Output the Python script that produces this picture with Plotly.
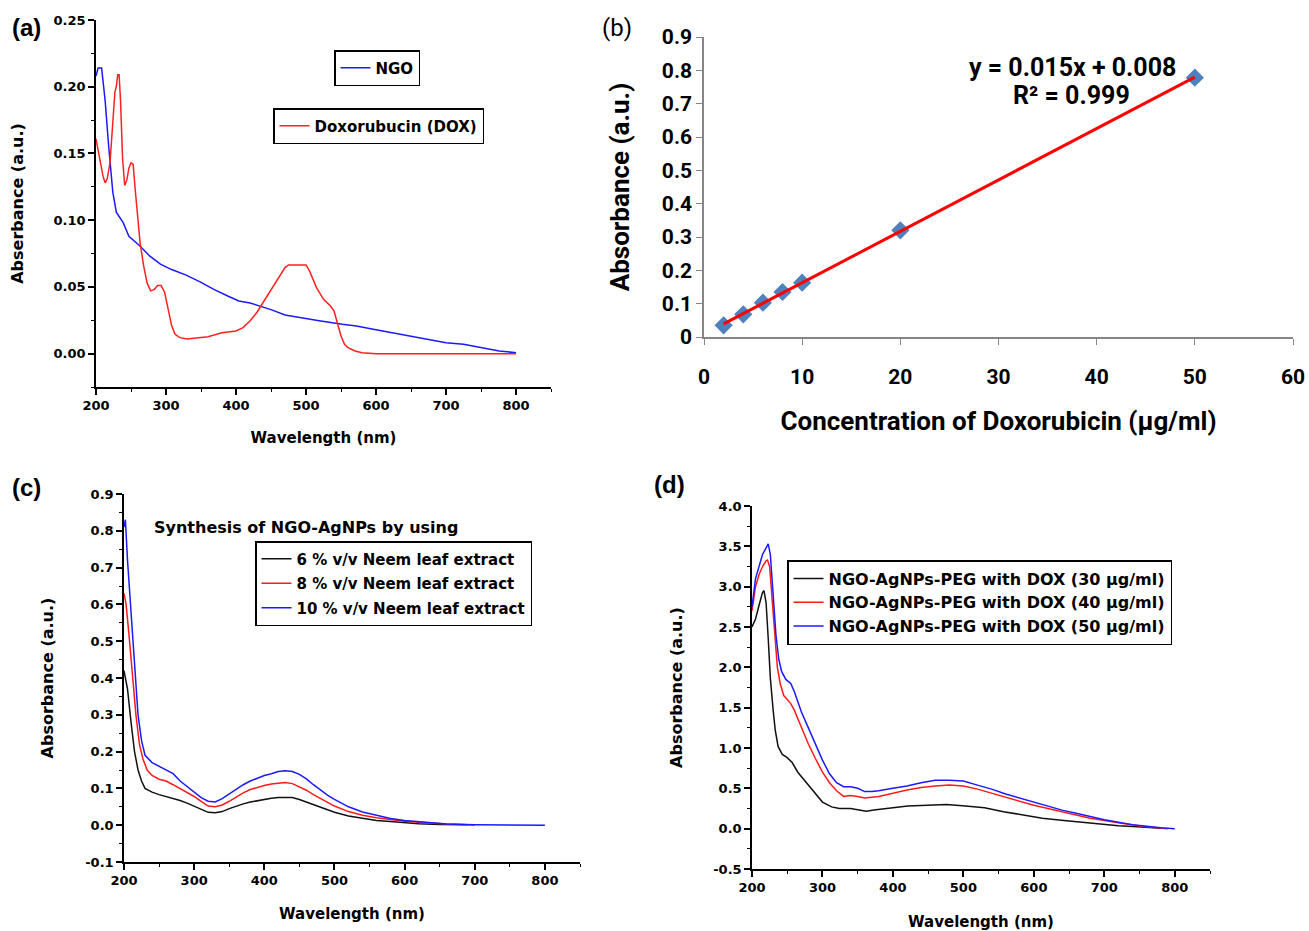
import numpy as np
import plotly.graph_objects as go

# ---------------- Panel (a) data ----------------
a_ngo_x = [200, 203, 208, 213, 218, 224, 229, 239, 247, 262, 277, 292, 308, 328, 348, 369, 389, 404,
           420, 450, 470, 491, 521, 552, 572, 598, 623, 649, 674, 700, 725, 750, 776, 800]
a_ngo_y = [0.208, 0.214, 0.214, 0.190, 0.156, 0.121, 0.106, 0.098, 0.088, 0.081, 0.073, 0.067, 0.063,
           0.059, 0.054, 0.048, 0.043, 0.0395, 0.038, 0.033, 0.029, 0.027, 0.0245, 0.022, 0.0207, 0.018,
           0.0157, 0.013, 0.0107, 0.0082, 0.007, 0.0045, 0.002, 0.0007]
a_dox_x = [200, 205, 210, 213, 216, 220, 224, 227, 229, 231, 233, 235, 238, 241, 244, 247, 250, 253, 256,
           259, 263, 268, 273, 278, 283, 288, 293, 298, 303, 308, 313, 320, 330, 340, 360, 380, 400, 410,
           420, 430, 440, 450, 460, 470, 475, 500, 505, 515, 525, 535, 540, 545, 550, 555, 560, 570, 580,
           600, 700, 800]
a_dox_y = [0.161, 0.146, 0.133, 0.128, 0.131, 0.143, 0.170, 0.196, 0.200, 0.209, 0.209, 0.190, 0.146,
           0.126, 0.130, 0.139, 0.143, 0.142, 0.123, 0.103, 0.083, 0.066, 0.053, 0.047, 0.048, 0.051,
           0.051, 0.046, 0.033, 0.021, 0.0145, 0.012, 0.011, 0.0117, 0.0127, 0.0157, 0.017, 0.0195,
           0.0245, 0.031, 0.0395, 0.048, 0.057, 0.0645, 0.0665, 0.0665, 0.062, 0.0495, 0.0407, 0.0357,
           0.032, 0.022, 0.0132, 0.007, 0.0045, 0.002, 0.0007, 0.0, 0.0, 0.0]

# ---------------- Panel (b) data ----------------
b_conc = [2, 4, 6, 8, 10, 20, 50]
b_abs = [0.035, 0.068, 0.103, 0.135, 0.163, 0.320, 0.778]
b_eq_text = "y = 0.015x + 0.008"
b_r2_text = "R² = 0.999"

# ---------------- Panel (c) data ----------------
c_x6 = [200, 205, 210, 215, 220, 225, 230, 240, 250, 260, 270, 280, 290, 300, 310, 320, 330, 340, 350,
        360, 370, 380, 390, 400, 410, 420, 430, 440, 450, 460, 470, 480, 490, 500, 520, 540, 560, 580,
        600, 620, 650, 690]
c_y6 = [0.42, 0.37, 0.28, 0.20, 0.15, 0.12, 0.10, 0.09, 0.083, 0.078, 0.073, 0.067, 0.060, 0.052, 0.042,
        0.035, 0.034, 0.037, 0.045, 0.052, 0.058, 0.063, 0.067, 0.070, 0.073, 0.075, 0.076, 0.075, 0.070,
        0.063, 0.055, 0.048, 0.041, 0.035, 0.025, 0.018, 0.013, 0.010, 0.007, 0.004, 0.002, 0.001]
c_x8 = [200, 203, 207, 212, 217, 222, 227, 233, 240, 250, 260, 270, 280, 290, 300, 310, 320, 330, 340,
        350, 360, 370, 380, 390, 400, 410, 420, 430, 440, 450, 460, 470, 480, 490, 500, 520, 540, 560,
        580, 600, 620, 640, 660, 690, 700]
c_y8 = [0.63, 0.60, 0.52, 0.40, 0.30, 0.22, 0.18, 0.15, 0.135, 0.125, 0.12, 0.11, 0.10, 0.09, 0.078,
        0.065, 0.052, 0.050, 0.055, 0.065, 0.077, 0.088, 0.097, 0.103, 0.108, 0.112, 0.115, 0.116, 0.113,
        0.105, 0.095, 0.083, 0.072, 0.062, 0.052, 0.037, 0.027, 0.020, 0.015, 0.011, 0.008, 0.005, 0.003,
        0.001, 0.0]
c_x10 = [200, 202, 205, 210, 215, 220, 225, 230, 240, 250, 260, 270, 280, 290, 300, 310, 320, 330, 340,
         350, 360, 370, 380, 390, 400, 410, 420, 430, 440, 450, 460, 470, 480, 490, 500, 520, 540, 560,
         580, 600, 620, 640, 660, 700, 750, 800]
c_y10 = [0.81, 0.83, 0.72, 0.58, 0.42, 0.30, 0.23, 0.19, 0.17, 0.16, 0.15, 0.14, 0.12, 0.105, 0.09, 0.075,
         0.065, 0.063, 0.072, 0.085, 0.098, 0.11, 0.12, 0.128, 0.135, 0.14, 0.146, 0.148, 0.146, 0.138,
         0.126, 0.11, 0.095, 0.082, 0.07, 0.05, 0.036, 0.026, 0.018, 0.013, 0.009, 0.006, 0.003, 0.001,
         0.0, 0.0]

# ---------------- Panel (d) data ----------------
d_x30 = [200, 205, 210, 215, 217, 220, 223, 226, 230, 233, 237, 243, 250, 257, 265, 275, 285, 300, 313,
         324, 340, 362, 373, 394, 421, 449, 476, 503, 530, 557, 584, 612, 639, 666, 694, 720, 747, 775, 780]
d_y30 = [2.50, 2.60, 2.77, 2.93, 2.95, 2.80, 2.36, 1.87, 1.47, 1.22, 1.02, 0.92, 0.88, 0.82, 0.70, 0.59,
         0.49, 0.33, 0.27, 0.25, 0.25, 0.215, 0.23, 0.25, 0.28, 0.29, 0.30, 0.28, 0.26, 0.21, 0.17, 0.13,
         0.105, 0.08, 0.05, 0.035, 0.025, 0.01, 0.005]
d_x40 = [200, 205, 210, 215, 220, 222, 225, 228, 232, 236, 240, 245, 250, 255, 260, 270, 280, 290, 300,
         310, 320, 330, 340, 350, 360, 370, 380, 400, 420, 440, 460, 480, 500, 520, 540, 560, 580, 600,
         620, 640, 660, 680, 700, 720, 740, 760, 780, 790]
d_y40 = [2.70, 3.00, 3.15, 3.25, 3.32, 3.33, 3.25, 2.90, 2.40, 2.00, 1.80, 1.65, 1.60, 1.55, 1.47, 1.25,
         1.05, 0.87, 0.70, 0.57, 0.47, 0.40, 0.41, 0.40, 0.38, 0.39, 0.40, 0.44, 0.48, 0.51, 0.53, 0.54,
         0.53, 0.49, 0.44, 0.39, 0.34, 0.29, 0.25, 0.21, 0.17, 0.13, 0.10, 0.07, 0.045, 0.025, 0.01, 0.0]
d_x50 = [200, 205, 210, 215, 220, 223, 226, 230, 234, 238, 242, 248, 255, 260, 270, 280, 290, 300, 310,
         320, 330, 340, 350, 360, 370, 380, 400, 420, 440, 460, 480, 500, 520, 540, 560, 580, 600, 620,
         640, 660, 680, 700, 720, 740, 760, 780, 800]
d_y50 = [2.75, 3.10, 3.25, 3.40, 3.48, 3.53, 3.40, 2.90, 2.40, 2.10, 1.95, 1.85, 1.80, 1.70, 1.45, 1.25,
         1.05, 0.85, 0.68, 0.57, 0.52, 0.52, 0.50, 0.46, 0.46, 0.47, 0.50, 0.53, 0.57, 0.60, 0.60, 0.59,
         0.54, 0.49, 0.43, 0.38, 0.33, 0.28, 0.23, 0.19, 0.15, 0.11, 0.08, 0.05, 0.03, 0.01, 0.0]

# tick values (labels written with a plain hyphen minus, as in the original)
wl_ticks = [200, 300, 400, 500, 600, 700, 800]
a_yticks = [0.00, 0.05, 0.10, 0.15, 0.20, 0.25]
c_yticks = [-0.1, 0.0, 0.1, 0.2, 0.3, 0.4, 0.5, 0.6, 0.7, 0.8, 0.9]
d_yticks = [-0.5, 0.0, 0.5, 1.0, 1.5, 2.0, 2.5, 3.0, 3.5, 4.0]
b_xticks = [0, 10, 20, 30, 40, 50, 60]
b_yticks = [0, 0.1, 0.2, 0.3, 0.4, 0.5, 0.6, 0.7, 0.8, 0.9]

W, H = 1309, 931
DJ = "DejaVu Sans, Verdana, sans-serif"
ARIAL = "Liberation Sans, Arial, sans-serif"
CALIBRI = "Roboto, Liberation Sans, Arial, sans-serif"

def dom_x(px0, px1):
    return [px0 / W, px1 / W]

def dom_y(py_bottom, py_top):
    return [1 - py_bottom / H, 1 - py_top / H]

fig = go.Figure()

# Panel (a)
fig.add_trace(go.Scatter(x=a_ngo_x, y=a_ngo_y, mode="lines", name="NGO",
                         line=dict(color="#1a1aff", width=1.5), xaxis="x", yaxis="y", legend="legend"))
fig.add_trace(go.Scatter(x=a_dox_x, y=a_dox_y, mode="lines", name="Doxorubucin (DOX)",
                         line=dict(color="#ff2020", width=1.5), xaxis="x", yaxis="y", legend="legend2"))

# Panel (b)
fig.add_trace(go.Scatter(x=b_conc, y=b_abs, mode="markers", showlegend=False,
                         marker=dict(symbol="diamond", size=14, color="#4f81bd"),
                         xaxis="x2", yaxis="y2"))
slope, intercept = np.polyfit(b_conc, b_abs, 1)
fit_x = [min(b_conc), max(b_conc)]
fit_y = [slope * v + intercept for v in fit_x]
fig.add_trace(go.Scatter(x=fit_x, y=fit_y, mode="lines", showlegend=False,
                         line=dict(color="#ff0000", width=3), xaxis="x2", yaxis="y2"))

# Panel (c)
for xs, ys, nm, col, grp in [(c_x6, c_y6, "6 % v/v Neem leaf extract", "#111111", "c1"),
                             (c_x8, c_y8, "8 % v/v Neem leaf extract", "#ff1a1a", "c2"),
                             (c_x10, c_y10, "10 % v/v Neem leaf extract", "#1a1aff", "c3")]:
    fig.add_trace(go.Scatter(x=xs, y=ys, mode="lines", name=nm, legendgroup=grp,
                             line=dict(color=col, width=1.5), xaxis="x3", yaxis="y3", legend="legend3"))

# Panel (d)
for xs, ys, nm, col, grp in [(d_x30, d_y30, "NGO-AgNPs-PEG with DOX (30 µg/ml)", "#111111", "d1"),
                             (d_x40, d_y40, "NGO-AgNPs-PEG with DOX (40 µg/ml)", "#ff1a1a", "d2"),
                             (d_x50, d_y50, "NGO-AgNPs-PEG with DOX (50 µg/ml)", "#1a1aff", "d3")]:
    fig.add_trace(go.Scatter(x=xs, y=ys, mode="lines", name=nm, legendgroup=grp,
                             line=dict(color=col, width=1.5), xaxis="x4", yaxis="y4", legend="legend4"))

def spec_axis(domain, rng, tickvals, fmt, minor_dtick, title, anchor, standoff, tsize=15):
    return dict(domain=domain, range=rng, tickvals=tickvals,
                ticktext=[format(v, fmt) for v in tickvals], automargin=False,
                showline=True, linecolor="black", linewidth=1.5, mirror=False,
                ticks="outside", ticklen=6, tickwidth=1.5, tickcolor="black",
                minor=dict(ticks="outside", ticklen=3, tickwidth=1.2, tick0=0, dtick=minor_dtick,
                           tickcolor="black"),
                showgrid=False, zeroline=False, anchor=anchor,
                tickfont=dict(family=DJ, size=13, color="black", weight="bold"),
                title=dict(text=title, standoff=standoff,
                           font=dict(family=DJ, size=tsize, color="black", weight="bold")))

def legend_box(px, py, size=15, gap=2):
    return dict(x=px / W, y=1 - py / H, xanchor="left", yanchor="top", bgcolor="white",
                bordercolor="black", borderwidth=1.5, tracegroupgap=gap,
                font=dict(family=DJ, size=size, color="black", weight="bold"))

layout = dict(
    width=W, height=H, margin=dict(l=0, r=0, t=0, b=0, autoexpand=False),
    paper_bgcolor="white", plot_bgcolor="white",
    xaxis=spec_axis(dom_x(96, 551), [200, 850], wl_ticks, "d", 50, "Wavelength (nm)", "y", 20),
    yaxis=spec_axis(dom_y(387, 20), [-0.025, 0.25], a_yticks, ".2f", 0.025, "Abserbance (a.u.)", "x", 26, 16),
    xaxis3=spec_axis(dom_x(124, 580), [200, 850], wl_ticks, "d", 50, "Wavelength (nm)", "y3", 21),
    yaxis3=spec_axis(dom_y(862, 494), [-0.1, 0.9], c_yticks, ".1f", 0.05, "Absorbance (a.u.)", "x3", 28, 16),
    xaxis4=spec_axis(dom_x(752, 1210), [200, 850], wl_ticks, "d", 50, "Wavelength (nm)", "y4", 22),
    yaxis4=spec_axis(dom_y(869, 506), [-0.5, 4.0], d_yticks, ".1f", 0.25, "Absorbance (a.u.)", "x4", 27, 16),
    xaxis2=dict(domain=dom_x(704, 1293), range=[0, 60], tickvals=b_xticks,
                ticktext=[str(v) for v in b_xticks], anchor="y2", automargin=False,
                showline=True, linecolor="#868686", linewidth=1.5, ticks="outside", ticklen=6,
                tickcolor="#868686", showgrid=False, zeroline=False, ticklabelstandoff=14,
                tickfont=dict(family=CALIBRI, size=21, color="black", weight="bold"),
                title=dict(text="Concentration of Doxorubicin (µg/ml)", standoff=24,
                           font=dict(family=CALIBRI, size=26, color="black", weight="bold"))),
    yaxis2=dict(domain=dom_y(337, 37), range=[0, 0.9], tickvals=b_yticks, automargin=False,
                ticktext=[format(v, "g") for v in b_yticks], anchor="x2",
                showline=True, linecolor="#868686", linewidth=1.5, ticks="outside", ticklen=6,
                tickcolor="#868686", showgrid=False, zeroline=False,
                tickfont=dict(family=CALIBRI, size=21, color="black", weight="bold"),
                title=dict(text="Absorbance (a.u.)", standoff=25,
                           font=dict(family=CALIBRI, size=26, color="black", weight="bold"))),
    legend=legend_box(334, 50),
    legend2=legend_box(273, 108),
    legend3=legend_box(255, 541, 15, 2),
    legend4=legend_box(787, 560, 16, 0),
    showlegend=True,
)
fig.update_layout(**layout)

annotations = [
    dict(text="(a)", x=10 / W, y=1 - 27 / H, xanchor="left", yanchor="middle",
         font=dict(family=ARIAL, size=24, color="black", weight="bold")),
    dict(text="(b)", x=600 / W, y=1 - 28 / H, xanchor="left", yanchor="middle",
         font=dict(family=CALIBRI, size=24, color="black")),
    dict(text="(c)", x=10 / W, y=1 - 487 / H, xanchor="left", yanchor="middle",
         font=dict(family=ARIAL, size=24, color="black", weight="bold")),
    dict(text="(d)", x=652 / W, y=1 - 485 / H, xanchor="left", yanchor="middle",
         font=dict(family=ARIAL, size=24, color="black", weight="bold")),
    dict(text=b_eq_text, x=1072 / W, y=1 - 67 / H, xanchor="center", yanchor="middle",
         font=dict(family=CALIBRI, size=25, color="black", weight="bold")),
    dict(text=b_r2_text, x=1071 / W, y=1 - 95 / H, xanchor="center", yanchor="middle",
         font=dict(family=CALIBRI, size=25, color="black", weight="bold")),
    dict(text="Synthesis of NGO-AgNPs by using", x=152 / W, y=1 - 527 / H, xanchor="left",
         yanchor="middle", font=dict(family=DJ, size=16, color="black", weight="bold")),
]
for a in annotations:
    a.update(xref="paper", yref="paper", showarrow=False)
fig.update_layout(annotations=annotations)

fig.write_html("out.html", config={"displayModeBar": False},
               post_script="document.body.style.margin='0px';")
